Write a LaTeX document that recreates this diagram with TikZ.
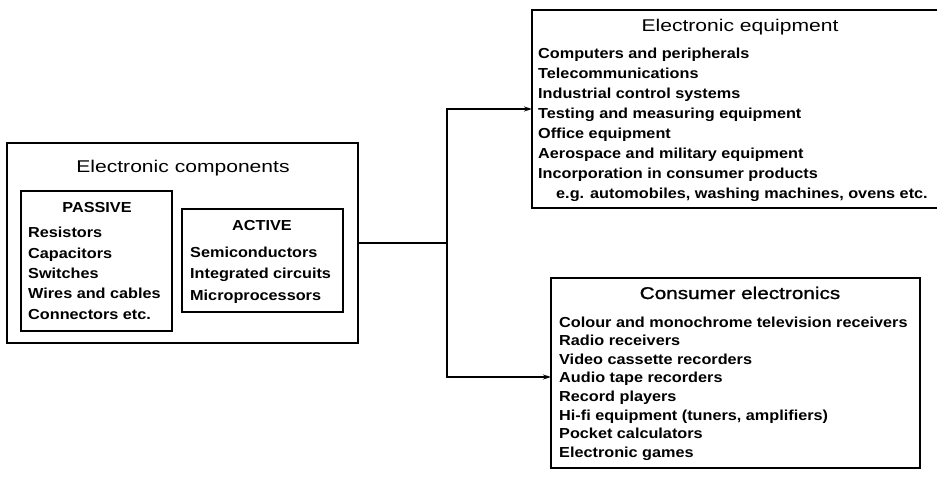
\documentclass[tikz,border=0pt]{standalone}
\usepackage{fontspec}
\setmainfont{Liberation Sans}
\newfontfamily\itemfont[FakeStretch=1.12]{Liberation Sans}
\newfontfamily\titlefont[FakeStretch=1.24]{Liberation Sans}
\newfontfamily\boldtitlefont[FakeStretch=1.22,FakeBold=1.2]{Liberation Sans}
\usetikzlibrary{arrows.meta}
\begin{document}
\begin{tikzpicture}[x=1pt,y=-1pt,
  box/.style={draw, line width=1.3pt, inner sep=0pt, outer sep=0pt, anchor=north west},
  itm/.style={anchor=base west, inner sep=0pt, font=\itemfont\bfseries\fontsize{14.5}{16}\selectfont},
  hdr/.style={anchor=base, inner sep=0pt, font=\itemfont\bfseries\fontsize{14.5}{16}\selectfont},
  ttl/.style={anchor=base, inner sep=0pt, font=\titlefont\fontsize{17}{19}\selectfont},
  bttl/.style={anchor=base, inner sep=0pt, font=\boldtitlefont\fontsize{17}{19}\selectfont},
  wire/.style={line width=1.3pt},
  arr/.style={line width=1.3pt, -{Stealth[length=8pt,width=5pt]}}]
\useasboundingbox (0,0) rectangle (937,477);
\fill[white] (0,0) rectangle (937,477);
\clip (0,0) rectangle (937,477);
% boxes
\node[box, minimum width=351pt, minimum height=200pt] (comp) at (7,143) {};
\node[box, minimum width=151pt, minimum height=140pt] (pass) at (21,191) {};
\node[box, minimum width=161pt, minimum height=103pt] (act) at (182,209) {};
\node[box, minimum width=408pt, minimum height=198pt] (equip) at (532,10) {};
\node[box, minimum width=369pt, minimum height=190pt] (cons) at (551,278) {};
% left texts
\node[ttl] (compt) at (183,172) {Electronic components};
\node[hdr] (passt) at (97,212) {PASSIVE};
\node[itm] (p1) at (28,237) {Resistors};
\node[itm] (p2) at (28,258) {Capacitors};
\node[itm] (p3) at (28,278) {Switches};
\node[itm] (p4) at (28,298) {Wires and cables};
\node[itm] (p5) at (28,319) {Connectors etc.};
\node[hdr] (actt) at (262,230) {ACTIVE};
\node[itm] (a1) at (190,257) {Semiconductors};
\node[itm] (a2) at (190,278) {Integrated circuits};
\node[itm] (a3) at (190,300) {Microprocessors};
% equipment texts
\node[ttl] (equipt) at (740,31) {Electronic equipment};
\node[itm] (e1) at (538,58) {Computers and peripherals};
\node[itm] (e2) at (538,78) {Telecommunications};
\node[itm] (e3) at (538,98) {Industrial control systems};
\node[itm] (e4) at (538,118) {Testing and measuring equipment};
\node[itm] (e5) at (538,138) {Office equipment};
\node[itm] (e6) at (538,158) {Aerospace and military equipment};
\node[itm] (e7) at (538,178) {Incorporation in consumer products};
\node[itm] (e8) at (556,198) {e.g. automobiles, washing machines, ovens etc.};
% consumer texts
\node[bttl] (const) at (740,299) {Consumer electronics};
\node[itm] (c1) at (559,327) {Colour and monochrome television receivers};
\node[itm] (c2) at (559,345.6) {Radio receivers};
\node[itm] (c3) at (559,364.2) {Video cassette recorders};
\node[itm] (c4) at (559,382.8) {Audio tape recorders};
\node[itm] (c5) at (559,401.4) {Record players};
\node[itm] (c6) at (559,420) {Hi-fi equipment (tuners, amplifiers)};
\node[itm] (c7) at (559,438.6) {Pocket calculators};
\node[itm] (c8) at (559,457.2) {Electronic games};
% connectors
\path (comp.east) ++(89,0) coordinate (j);
\draw[wire] (comp.east) -- (j);
\draw[arr] (j) |- (equip.west);
\draw[arr] (j) |- ([yshift=-4pt]cons.west);
\end{tikzpicture}
\end{document}
